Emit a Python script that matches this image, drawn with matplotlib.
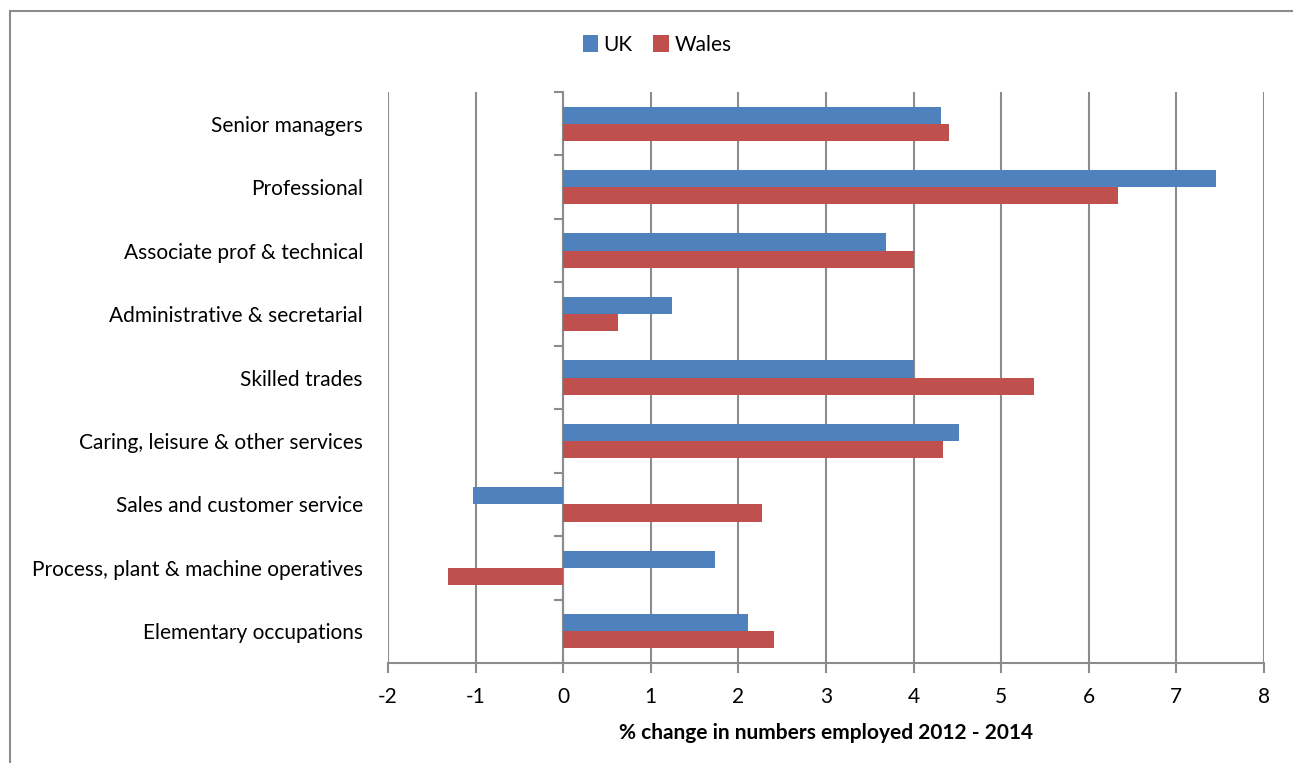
import matplotlib.pyplot as plt
import numpy as np
from matplotlib.patches import Rectangle

plt.rcParams['font.family'] = ['Lato', 'DejaVu Sans']

categories = ["Senior managers", "Professional", "Associate prof & technical",
              "Administrative & secretarial", "Skilled trades",
              "Caring, leisure & other services", "Sales and customer service",
              "Process, plant & machine operatives", "Elementary occupations"]
uk = [4.31, 7.45, 3.69, 1.24, 4.00, 4.52, -1.03, 1.73, 2.11]
wales = [4.40, 6.33, 4.01, 0.62, 5.37, 4.34, 2.27, -1.31, 2.41]
xticks = [-2, -1, 0, 1, 2, 3, 4, 5, 6, 7, 8]

blue = '#4f81bd'
red = '#c0504d'
grid = '#8c8c8c'
fs = 15

fig = plt.figure(figsize=(12.93, 7.63), dpi=100)
# outer chart frame
fig.patches.append(Rectangle((10/1293, -0.05), 1.2, 1 - 11/763 + 0.05,
                             transform=fig.transFigure, fill=False,
                             edgecolor='#8c8c8c', linewidth=1.5))

ax = fig.add_axes([388/1293, 1 - 663/763, (1264 - 388)/1293, (663 - 92)/763])

y = np.arange(len(categories))
h = 0.27
ax.barh(y - h/2, uk, height=h, color=blue, label='UK', zorder=3)
ax.barh(y + h/2, wales, height=h, color=red, label='Wales', zorder=3)

ax.set_xlim(-2, 8)
ax.set_ylim(len(categories) - 0.5, -0.5)
ax.set_xticks(xticks)
ax.set_xticklabels([str(t) for t in xticks], fontsize=fs)
ax.tick_params(axis='x', length=7, color=grid, width=1.5, pad=10)
ax.xaxis.grid(True, color=grid, linewidth=1.5, zorder=0)

# category labels, no ticks at label positions
ax.set_yticks(y)
ax.set_yticklabels(categories, fontsize=fs)
ax.tick_params(axis='y', length=0, pad=18)
# small tick marks on the zero axis between categories
for b in np.arange(-0.5, len(categories) + 0.5, 1):
    ax.plot([-0.09, 0], [b, b], color=grid, linewidth=1.5, zorder=2, clip_on=False)
ax.axvline(0, color=grid, linewidth=1.5, zorder=2)

for s in ['top', 'left', 'right']:
    ax.spines[s].set_visible(False)
ax.spines['bottom'].set_color(grid)
ax.spines['bottom'].set_linewidth(1.5)

ax.set_xlabel('% change in numbers employed 2012 - 2014', fontsize=fs,
              fontweight='bold', labelpad=12)

fig.legend(loc='center', bbox_to_anchor=(657/1293, 1 - 45/763), ncol=2,
           frameon=False, fontsize=fs, handlelength=0.75, handleheight=0.9,
           handletextpad=0.25, columnspacing=1.0)

fig.savefig('out.png', dpi=100)
